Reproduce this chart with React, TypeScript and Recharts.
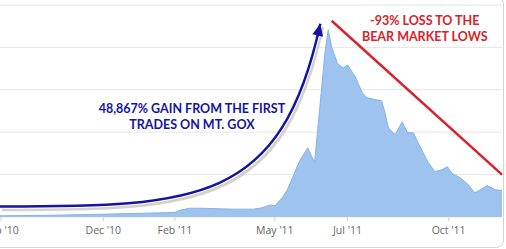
import React from "react";
import {
  AreaChart,
  Area,
  XAxis,
  YAxis,
  CartesianGrid,
  ReferenceLine,
  ReferenceDot,
} from "recharts";

// Mt. Gox BTC/USD, Sep 2010 - Nov 2011
const dates = [
  "2010-09-01", "2010-10-15", "2010-11-28", "2011-01-11", "2011-02-02",
  "2011-02-06", "2011-02-15", "2011-02-24", "2011-03-25", "2011-04-12",
  "2011-04-18", "2011-04-24", "2011-04-27", "2011-05-01", "2011-05-08",
  "2011-05-12", "2011-05-17", "2011-05-21", "2011-05-25", "2011-05-30",
  "2011-06-05", "2011-06-10", "2011-06-14", "2011-06-17", "2011-06-20",
  "2011-06-25", "2011-06-30", "2011-07-04", "2011-07-11", "2011-07-17",
  "2011-07-21", "2011-07-28", "2011-08-03", "2011-08-06", "2011-08-09",
  "2011-08-15", "2011-08-21", "2011-08-26", "2011-08-31", "2011-09-04",
  "2011-09-13", "2011-09-19", "2011-09-25", "2011-09-30", "2011-10-04",
  "2011-10-11", "2011-10-18", "2011-10-24", "2011-10-28", "2011-11-04",
  "2011-11-11", "2011-11-17",
];
const prices = [
  0.2, 0.28, 0.45, 0.65, 0.75,
  1.1, 1.45, 1.45, 1.3, 1.3,
  1.45, 1.8, 2.0, 1.85, 3.3,
  4.5, 6.7, 8.5, 10.0, 11.4,
  9.0, 18.9, 27.0, 30.9, 28.1,
  25.4, 24.6, 25.1, 23.1, 20.5,
  19.7, 19.4, 19.2, 17.2, 14.7,
  13.6, 15.7, 13.9, 13.9, 12.3,
  9.0, 7.5, 7.8, 8.3, 7.2,
  6.5, 5.4, 4.0, 4.4, 5.2,
  4.5, 4.4,
];

const tickDates = ["2010-09-02", "2010-12-01", "2011-02-02", "2011-05-01", "2011-07-04", "2011-10-01"];
const tickLabels = ["Sep '10", "Dec '10", "Feb '11", "May '11", "Jul '11", "Oct '11"];
const gridValues = [0, 7, 14, 21, 28, 35];

// annotations: [start, end] as date / price
const gainArrowDates = ["2010-09-01", "2011-06-10"];
const gainArrowPrices = [1.73, 31.9];
const lossLineDates = ["2011-06-20", "2011-11-17"];
const lossLinePrices = [32.4, 7.0];
const gainText = ["48,867% GAIN FROM THE FIRST", "TRADES ON MT. GOX"];
const gainTextAt = { date: "2011-02-17", price: 17.2 };
const lossText = ["-93% LOSS TO THE", "BEAR MARKET LOWS"];
const lossTextAt = { date: "2011-09-10", price: 31.7 };

const START = Date.parse("2010-09-01");
const toDay = (s: string) => (Date.parse(s) - START) / 86400000;

const data = dates.map((d, i) => ({ day: toDay(d), price: prices[i] }));
const ticks = tickDates.map(toDay);

const BLUE = "#1414a0";
const RED = "#d8232a";

function CurvedArrow(props: any) {
  const { x1, y1, x2, y2 } = props;
  const w = x2 - x1;
  const h = y1 - y2;
  const c1x = x1 + 0.62 * w;
  const c1y = y1;
  const c2x = x1 + 0.878 * w;
  const c2y = y1 - 0.016 * h;
  const d = `M${x1},${y1} C${c1x},${c1y} ${c2x},${c2y} ${x2},${y2}`;
  const dx = x2 - c2x;
  const dy = y2 - c2y;
  const len = Math.sqrt(dx * dx + dy * dy);
  const ux = dx / len;
  const uy = dy / len;
  const bx = x2 - ux * 12;
  const by = y2 - uy * 12;
  const head = `M${x2},${y2} L${bx - uy * 5.5},${by + ux * 5.5} L${bx + uy * 5.5},${by - ux * 5.5} Z`;
  return (
    <g>
      <path d={d} transform="translate(2,3)" fill="none" stroke="#c6bfb0" strokeWidth={3.5} opacity={0.7} />
      <path d={d} fill="none" stroke="#ffffff" strokeWidth={4.5} />
      <path d={d} fill="none" stroke={BLUE} strokeWidth={2.5} />
      <path d={head} fill={BLUE} />
    </g>
  );
}

function makeText(lines: string[], color: string) {
  return (props: any) => (
    <text
      x={props.cx}
      y={props.cy}
      textAnchor="middle"
      fill={color}
      fontFamily="Lato, sans-serif"
      fontWeight={700}
      fontSize={12.5}
    >
      {lines.map((l, i) => (
        <tspan key={i} x={props.cx} dy={i === 0 ? 0 : 16}>
          {l}
        </tspan>
      ))}
    </text>
  );
}

export default function App() {
  return (
    <div style={{ position: "absolute", left: 0, top: 0, width: 506, height: 249, overflow: "hidden", background: "#fff" }}>
      <AreaChart
        width={506}
        height={249}
        data={data}
        margin={{ top: 5, right: 4, bottom: 2, left: 0 }}
      >
        <CartesianGrid vertical={false} stroke="#e6e6e6" />
        <XAxis
          dataKey="day"
          type="number"
          domain={[0, 442]}
          ticks={ticks}
          interval={0}
          tickFormatter={(v: number) => tickLabels[ticks.indexOf(v)]}
          axisLine={false}
          tickLine={{ stroke: "#cfcfcf" }}
          tickSize={4}
          tickMargin={6}
          height={30}
          tick={{ fill: "#666", fontSize: 10.5, fontFamily: "Open Sans, sans-serif" }}
        />
        <YAxis hide domain={[0, 35]} ticks={gridValues} />
        <Area
          type="linear"
          dataKey="price"
          stroke="#86b4e8"
          strokeWidth={1}
          fill="#9dc3ee"
          fillOpacity={1}
          isAnimationActive={false}
        />
        <ReferenceLine
          segment={[
            { x: toDay(lossLineDates[0]), y: lossLinePrices[0] },
            { x: toDay(lossLineDates[1]), y: lossLinePrices[1] },
          ]}
          stroke={RED}
          strokeWidth={2.5}
        />
        <ReferenceLine
          segment={[
            { x: toDay(gainArrowDates[0]), y: gainArrowPrices[0] },
            { x: toDay(gainArrowDates[1]), y: gainArrowPrices[1] },
          ]}
          shape={CurvedArrow}
        />
        <ReferenceDot
          x={toDay(gainTextAt.date)}
          y={gainTextAt.price}
          r={0}
          shape={makeText(gainText, BLUE)}
        />
        <ReferenceDot
          x={toDay(lossTextAt.date)}
          y={lossTextAt.price}
          r={0}
          shape={makeText(lossText, RED)}
        />
      </AreaChart>
      <div
        style={{
          position: "absolute",
          left: -10,
          top: -4,
          width: 512,
          height: 250,
          border: "1px solid #d4d4d4",
          borderRadius: 8,
          pointerEvents: "none",
        }}
      />
    </div>
  );
}
